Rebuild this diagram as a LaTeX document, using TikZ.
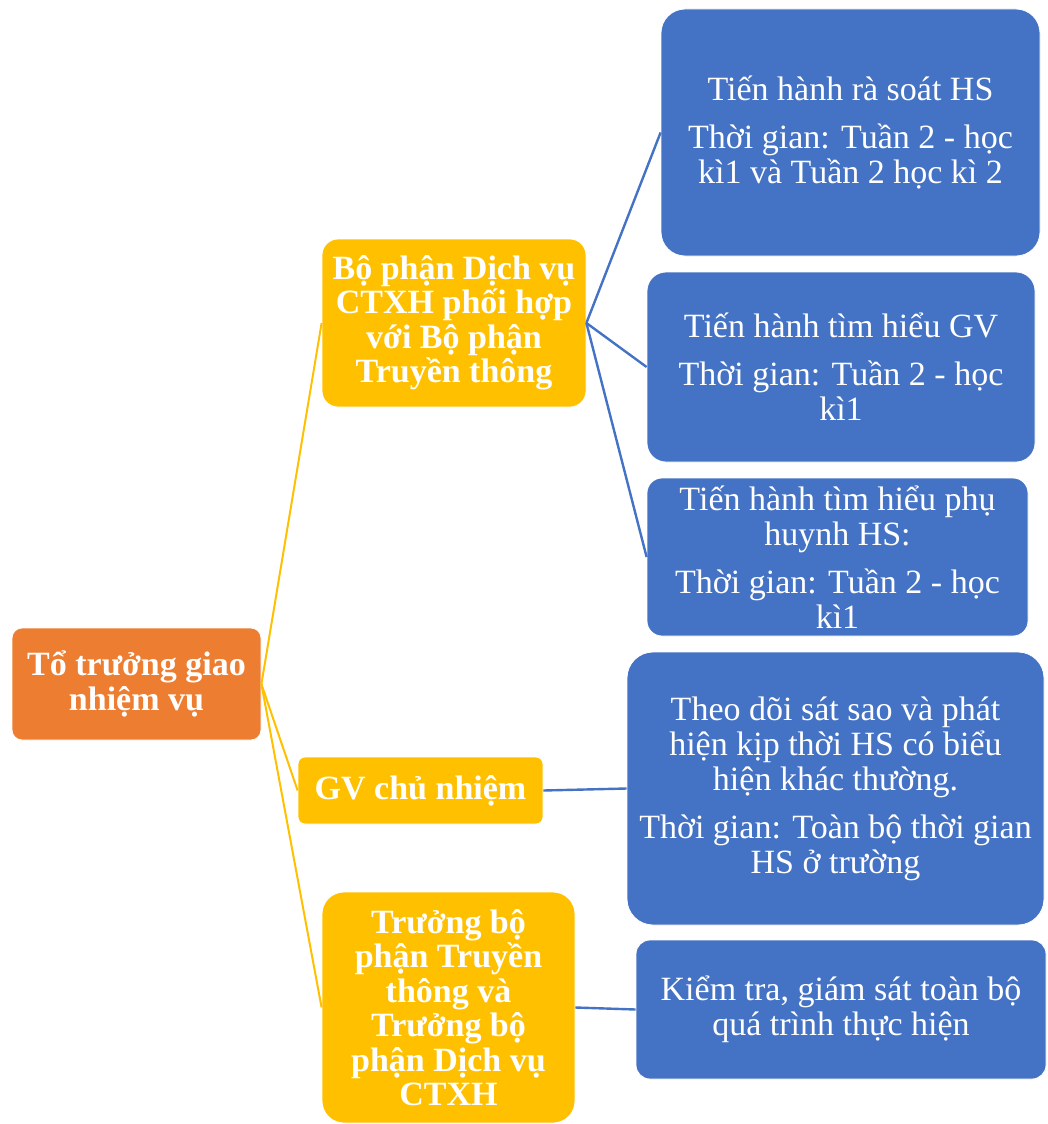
\documentclass[tikz,border=0pt]{standalone}
\usepackage{fontspec}
\setmainfont{Liberation Serif}
\definecolor{rootorange}{HTML}{ED7D31}
\definecolor{midyellow}{HTML}{FFC000}
\definecolor{leafblue}{HTML}{4472C4}
\begin{document}
\begin{tikzpicture}[x=1pt,y=-1pt,
  boxbase/.style={rectangle, draw=white, line width=0.8pt, align=center,
    inner sep=0pt, text=white},
  rootbox/.style={boxbase, fill=rootorange, font=\fontsize{34}{34.5}\selectfont\bfseries},
  midbox/.style={boxbase, fill=midyellow, font=\fontsize{34}{34.5}\selectfont\bfseries},
  leafbox/.style={boxbase, fill=leafblue, font=\fontsize{34}{35}\selectfont},
  ylink/.style={draw=midyellow, line width=2pt},
  blink/.style={draw=leafblue, line width=2.4pt}]
\useasboundingbox (0,0) rectangle (1047,1124);

% root
\node[rootbox, rounded corners=10pt, minimum width=249pt, minimum height=112pt]
  (root) at (136.5,684) {Tổ trưởng giao\\nhiệm vụ};

% second level
\node[midbox, rounded corners=16pt, minimum width=264pt, minimum height=168pt]
  (y1) at (454,323) {Bộ phận Dịch vụ\\CTXH phối hợp\\với Bộ phận\\Truyền thông};
\node[midbox, rounded corners=7pt, minimum width=245pt, minimum height=67pt]
  (gv) at (420.5,790.5) {GV chủ nhiệm};
\node[midbox, rounded corners=22pt, minimum width=253pt, minimum height=231pt]
  (y3) at (448.5,1007.5) {Trưởng bộ\\phận Truyền\\thông và\\Trưởng bộ\\phận Dịch vụ\\CTXH};

% tasks
\node[leafbox, rounded corners=24pt, minimum width=379pt, minimum height=247pt]
  (b1) at (850.5,132.5) {Tiến hành rà soát HS\\[13pt]Thời gian: Tuần 2 - học\\kì1 và Tuần 2 học kì 2};
\node[leafbox, rounded corners=19pt, minimum width=388pt, minimum height=190pt]
  (b2) at (841,367) {Tiến hành tìm hiểu GV\\[13pt]Thời gian: Tuần 2 - học\\kì1};
\node[leafbox, rounded corners=15pt, minimum width=381pt, minimum height=158pt]
  (b3) at (837.5,557) {Tiến hành tìm hiểu phụ\\huynh HS:\\[13pt]Thời gian: Tuần 2 - học\\kì1};
\node[leafbox, rounded corners=26pt, minimum width=417pt, minimum height=273pt]
  (b4) at (835.5,788.5) {Theo dõi sát sao và phát\\hiện kịp thời HS có biểu\\hiện khác thường.\\[13pt]Thời gian: Toàn bộ thời gian\\HS ở trường};
\node[leafbox, rounded corners=14pt, minimum width=410pt, minimum height=139pt]
  (b5) at (841,1009.5) {Kiểm tra, giám sát toàn bộ\\quá trình thực hiện};

% connectors
\draw[ylink] (root.east) -- (y1.west);
\draw[ylink] (root.east) -- (gv.west);
\draw[ylink] (root.east) -- (y3.west);
\draw[blink] (y1.east) -- (b1.west);
\draw[blink] (y1.east) -- (b2.west);
\draw[blink] (y1.east) -- (b3.west);
\draw[blink] (gv.east) -- (b4.west);
\draw[blink] (y3.east) -- (b5.west);
\end{tikzpicture}
\end{document}
